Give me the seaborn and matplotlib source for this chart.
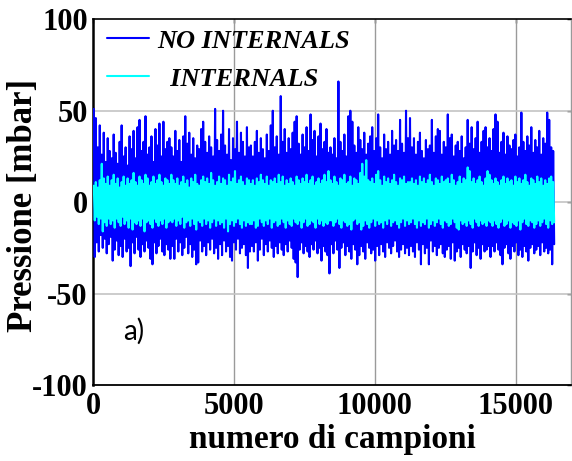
import numpy as np
import pandas as pd
import matplotlib
matplotlib.use("Agg")
import matplotlib.pyplot as plt
import seaborn as sns

# Pressure signal, summarised as the upper / lower peak reached in each
# consecutive block of samples (232 blocks over 16384 samples).
n_samples = 16384

no_int_hi = [
    51, 46, 30, 42, 26, 38, 22, 35, 28, 24, 37, 27, 21, 33, 42, 25, 30, 20, 36, 29,
    39, 24, 41, 45, 28, 33, 47, 26, 30, 36, 22, 40, 31, 43, 25, 44, 29, 33, 35,
    30, 25, 39, 28, 34, 22, 36, 47, 32, 38, 26, 35, 24, 31, 29, 40, 44, 33, 27, 36,
    30, 25, 51, 34, 28, 37, 50, 31, 26, 40, 23, 35, 29, 44, 27, 38, 33, 25, 41, 30,
    31, 25, 33, 39, 27, 35, 29, 24, 37, 28, 42, 50, 30, 36, 26, 58, 33, 40, 27, 35,
    29, 38, 44, 47, 32, 26, 37, 30, 41, 28, 48, 34, 39, 25, 36, 43, 29, 33, 40, 27,
    30, 26, 35, 24, 66, 33, 28, 37, 25, 47, 50, 44, 31, 27, 41, 34, 29, 38, 26, 32,
    36, 41, 28, 35, 48, 30, 24, 37, 29, 33, 26, 39, 31, 34, 28, 45, 32, 27, 50, 35,
    46, 30, 35, 26, 33, 38, 28, 24, 34, 29, 31, 45, 27, 36, 40, 39, 26, 33, 30, 48,
    35, 37, 25, 31, 33, 28, 36, 24, 30, 45, 32, 41, 29, 35, 44, 27, 33, 39, 41, 30,
    35, 28, 40, 48, 44, 27, 33, 38, 26, 36, 31, 29, 34, 37, 25, 30, 49, 33, 28, 36,
    31, 41, 27, 34, 30, 39, 26, 35, 32, 49, 45, 30, 28,
]
no_int_lo = [
    -30, -22, -27, -18, -25, -20, -28, -23, -19, -32, -26, -21, -29, -24, -30, -20, -27, -25, -35, -22,
    -28, -19, -26, -30, -23, -27, -21, -25, -31, -34, -22, -28, -24, -20, -27, -29, -23, -26, -31,
    -24, -31, -20, -27, -22, -29, -25, -19, -28, -23, -30, -26, -34, -33, -21, -27, -24, -29, -22, -26,
    -20, -28, -25, -31, -23, -29, -21, -27, -24, -30, -32, -22, -26, -20, -28, -25, -23, -29, -36, -27,
    -24, -27, -22, -32, -26, -20, -29, -23, -27, -21, -25, -30, -24, -28, -22, -26, -29, -23, -27, -21,
    -25, -31, -33, -41, -26, -22, -28, -24, -27, -30, -23, -26, -21, -28, -25, -32, -24, -27, -29, -39,
    -23, -28, -21, -26, -36, -25, -22, -29, -24, -27, -31, -23, -26, -34, -29, -24, -27, -31, -22, -25,
    -28, -26, -32, -24, -29, -23, -27, -30, -22, -25, -28, -24, -21, -27, -30, -26, -23, -28, -25, -29,
    -24, -27, -30, -22, -26, -34, -23, -28, -25, -34, -21, -27, -24, -29, -25, -23, -28, -30, -26, -24,
    -31, -22, -32, -27, -25, -30, -23, -26, -28, -24, -36, -27, -22, -29, -25, -31, -23, -27, -26, -24,
    -30, -24, -27, -22, -26, -29, -34, -25, -23, -28, -31, -24, -27, -22, -29, -26, -30, -24, -27, -32,
    -25, -23, -28, -26, -24, -29, -22, -27, -25, -28, -26, -34, -23,
]
int_hi = [
    9, 11, 8, 12, 21, 13, 10, 14, 9, 12, 15, 10, 13, 8, 11, 14, 9, 13, 10, 12,
    16, 11, 9, 14, 12, 10, 15, 13, 9, 11, 14, 10, 12, 15, 11, 9, 13, 12, 10,
    15, 12, 10, 13, 9, 11, 14, 10, 12, 8, 13, 11, 15, 10, 9, 12, 14, 11, 13, 10,
    16, 12, 9, 11, 14, 10, 13, 12, 9, 15, 11, 13, 17, 10, 12, 14, 11, 9, 13, 12,
    10, 12, 9, 13, 11, 15, 12, 10, 14, 9, 12, 11, 13, 10, 15, 11, 14, 9, 12, 10,
    13, 11, 9, 14, 12, 10, 13, 11, 15, 10, 12, 14, 9, 11, 13, 10, 12, 15, 11, 17,
    12, 10, 14, 11, 9, 13, 12, 15, 10, 11, 14, 9, 13, 12, 10, 16, 21, 14, 23, 12,
    11, 13, 10, 15, 17, 12, 9, 14, 11, 13, 10, 12, 15, 11, 9, 13, 12, 14, 10, 11,
    11, 13, 10, 12, 9, 14, 11, 13, 10, 12, 15, 11, 9, 13, 12, 10, 14, 11, 12, 13,
    10, 15, 12, 9, 11, 14, 10, 13, 12, 19, 17, 11, 13, 10, 12, 14, 11, 9, 13, 17,
    15, 12, 10, 13, 11, 9, 12, 14, 10, 13, 11, 12, 9, 14, 11, 13, 10, 12, 15, 11,
    9, 13, 12, 10, 14, 11, 13, 9, 12, 10, 13, 14, 11,
]
int_lo = [
    -10, -8, -12, -9, -16, -11, -13, -9, -12, -10, -14, -9, -11, -13, -8, -12, -10, -14, -9, -15,
    -11, -12, -10, -13, -9, -16, -11, -10, -12, -14, -9, -11, -13, -10, -12, -9, -14, -11, -10,
    -11, -9, -13, -10, -12, -8, -14, -11, -10, -13, -9, -12, -15, -10, -11, -13, -9, -12, -10, -14,
    -11, -9, -13, -10, -12, -11, -14, -9, -16, -12, -10, -13, -11, -9, -12, -14, -10, -13, -11, -12,
    -12, -10, -14, -13, -9, -11, -13, -10, -12, -9, -14, -11, -10, -13, -12, -9, -11, -14, -10, -12,
    -13, -9, -11, -12, -10, -14, -11, -9, -13, -12, -10, -11, -14, -9, -12, -10, -13, -11, -12, -10,
    -10, -13, -11, -9, -12, -14, -10, -11, -13, -12, -15, -10, -9, -12, -11, -15, -13, -10, -12, -14,
    -11, -9, -13, -10, -12, -11, -14, -10, -12, -9, -13, -11, -10, -12, -14, -11, -9, -13, -10, -12,
    -11, -9, -12, -14, -10, -13, -11, -12, -9, -14, -12, -10, -13, -11, -9, -12, -14, -10, -11, -13,
    -12, -9, -11, -14, -15, -10, -12, -11, -13, -10, -12, -14, -9, -11, -13, -10, -12, -11, -13, -10,
    -11, -13, -10, -12, -14, -11, -9, -13, -12, -10, -14, -11, -12, -13, -10, -15, -11, -9, -12, -13,
    -10, -11, -14, -12, -10, -13, -11, -9, -12, -14, -10, -12, -11,
]

series_labels = ["NO INTERNALS", "  INTERNALS"]
series_colors = ["#0000ff", "#00ffff"]
x_ticks = [0, 5000, 10000, 15000]
y_ticks = [-100, -50, 0, 50, 100]


def peak_trace(hi, lo):
    """Interleave block maxima and minima into one continuous trace."""
    hi = np.asarray(hi, float)
    lo = np.asarray(lo, float)
    w = n_samples / len(hi)
    idx = np.arange(len(hi))
    x = np.column_stack([(idx + 0.25) * w, (idx + 0.75) * w]).ravel()
    y = np.column_stack([hi, lo]).ravel()
    return pd.DataFrame({"campione": x, "pressione": y})


sns.set_style("white")
plt.rcParams["font.family"] = ["Liberation Serif", "DejaVu Serif"]
plt.rcParams["font.weight"] = "bold"
plt.rcParams["axes.unicode_minus"] = False
plt.rcParams["text.color"] = "black"
plt.rcParams["axes.labelcolor"] = "black"
plt.rcParams["xtick.color"] = "black"
plt.rcParams["ytick.color"] = "black"

fig = plt.figure(figsize=(5.72, 4.61), dpi=100)
ax = fig.add_axes([93.3 / 572, 1 - 385 / 461, (570.7 - 93.3) / 572, (385 - 19.3) / 461])

traces = [peak_trace(no_int_hi, no_int_lo), peak_trace(int_hi, int_lo)]
for df, lab, col in zip(traces, series_labels, series_colors):
    sns.lineplot(data=df, x="campione", y="pressione", ax=ax, color=col,
                 linewidth=1.5, label=lab, sort=False, estimator=None, zorder=3)

ax.set_xlim(0, 16953)
ax.set_ylim(-100, 100)
ax.set_xticks(x_ticks)
ax.set_yticks(y_ticks)
ax.set_xticklabels([str(v) for v in x_ticks])
ax.set_yticklabels([str(v) for v in y_ticks])

for v in x_ticks[1:]:
    ax.axvline(v, color="#9a9a9a", lw=1.0, zorder=1)
for v in [-50, 0, 50]:
    ax.axhline(v, color="#c4c4c4", lw=1.2, zorder=1)

ax.tick_params(axis="both", direction="in", length=3, width=1, top=True, right=True,
               labelsize=22, colors="black")
ax.tick_params(axis="y", pad=4)
ax.tick_params(axis="x", pad=5)
for t in ax.get_xticklabels() + ax.get_yticklabels():
    t.set_fontweight("bold")
    t.set_color("black")

for side, lw, col in [("left", 1.8, "black"), ("bottom", 1.3, "black"),
                      ("top", 1.2, "black"), ("right", 1.0, "#999999")]:
    ax.spines[side].set_visible(True)
    ax.spines[side].set_linewidth(lw)
    ax.spines[side].set_color(col)

ax.set_xlabel("numero di campioni", fontsize=24, fontweight="bold", labelpad=2, color="black")
ax.set_ylabel("Pressione [mbar]", fontsize=25, fontweight="bold", color="black")
ax.yaxis.set_label_coords(-0.111, 0.49)

leg = ax.legend(loc="upper left", bbox_to_anchor=(0.0287, 0.973), frameon=False,
                borderpad=0, borderaxespad=0, handlelength=1.6, handletextpad=0.3,
                labelspacing=0.55,
                prop={"family": "Liberation Serif", "weight": "bold", "style": "italic", "size": 19})
for line in leg.get_lines():
    line.set_linewidth(1.5)
for txt in leg.get_texts():
    txt.set_color("black")

ax.text(0.062, 0.147, "a)", transform=ax.transAxes, fontsize=20, fontweight="normal",
        family=["Lato", "DejaVu Sans"], va="center", ha="left", color="black")

fig.savefig("out.png", dpi=100, facecolor="white")
